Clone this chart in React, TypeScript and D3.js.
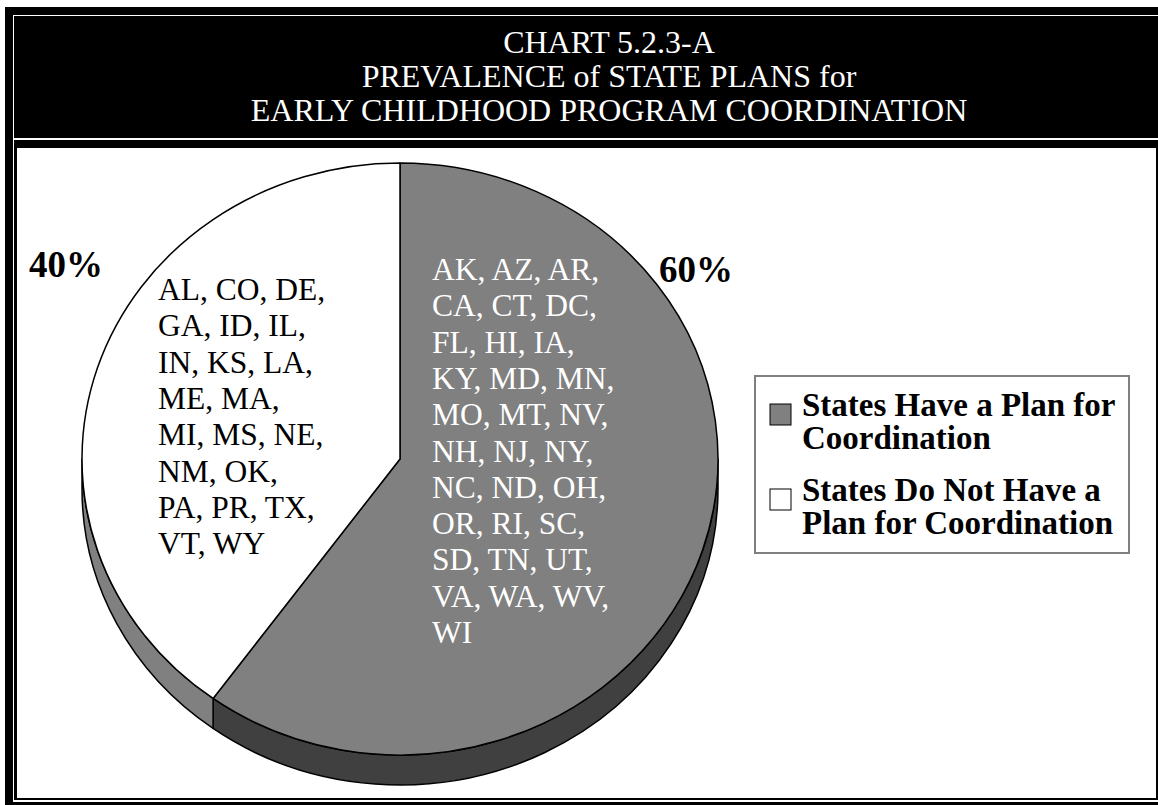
import React, { useEffect, useRef } from 'react'
import * as d3 from 'd3'

const titleLines = ['CHART 5.2.3-A', 'PREVALENCE of STATE PLANS for', 'EARLY CHILDHOOD PROGRAM COORDINATION']

const categories = ['States Have a Plan for Coordination', 'States Do Not Have a Plan for Coordination']
const shares = [60, 40]
const legendLines = [
  ['States Have a Plan for', 'Coordination'],
  ['States Do Not Have a', 'Plan for Coordination'],
]

const statesWithPlan = [
  'AK, AZ, AR,', 'CA, CT, DC,', 'FL, HI, IA,', 'KY, MD, MN,', 'MO, MT, NV,', 'NH, NJ, NY,',
  'NC, ND, OH,', 'OR, RI, SC,', 'SD, TN, UT,', 'VA, WA, WV,', 'WI',
]
const statesWithoutPlan = [
  'AL, CO, DE,', 'GA, ID, IL,', 'IN, KS, LA,', 'ME, MA,', 'MI, MS, NE,', 'NM, OK,', 'PA, PR, TX,', 'VT, WY',
]

const topColors = ['#808080', '#ffffff']
const sideColors = ['#404040', '#808080']
const textColors = ['#ffffff', '#000000']

const W = 1158
const H = 805
const serif = '"Liberation Serif", "Times New Roman", serif'

export default function App() {
  const svgRef = useRef<SVGSVGElement>(null)

  useEffect(() => {
    const svg = d3.select(svgRef.current)
    svg.selectAll('*').remove()

    // frames
    svg.append('rect').attr('x', 5).attr('y', 7).attr('width', W).attr('height', H).attr('fill', '#000')
    svg.append('rect').attr('x', 13).attr('y', 15).attr('width', W).attr('height', 787).attr('fill', '#fff')
    svg.append('rect').attr('x', 14).attr('y', 16).attr('width', W).attr('height', 122).attr('fill', '#000')
    svg.append('rect').attr('x', 14).attr('y', 140).attr('width', W).attr('height', 660).attr('fill', '#000')
    svg.append('rect').attr('x', 17).attr('y', 148).attr('width', 1139).attr('height', 650).attr('fill', '#fff')

    // title
    svg
      .append('g')
      .selectAll('text')
      .data(titleLines)
      .join('text')
      .attr('x', 609)
      .attr('y', (d, i) => 53 + i * 34)
      .attr('text-anchor', 'middle')
      .attr('font-family', serif)
      .attr('font-size', 32)
      .attr('fill', '#fff')
      .text((d) => d)

    // pie
    const cx = 400
    const cy = 459
    const rx = 318
    const ry = 296
    const depth = 30
    const pt = (a: number, dy = 0) => [cx + rx * Math.sin(a), cy - ry * Math.cos(a) + dy]

    const arcs = d3
      .pie<number>()
      .sort(null)
      .value((d) => d)(shares)

    const g = svg.append('g')

    // visible outer side walls
    arcs.forEach((a, i) => {
      const s = Math.max(a.startAngle, Math.PI / 2)
      const e = Math.min(a.endAngle, (3 * Math.PI) / 2)
      if (e <= s) return
      const large = e - s > Math.PI ? 1 : 0
      g.append('path')
        .attr(
          'd',
          `M${pt(s)}A${rx},${ry} 0 ${large} 1 ${pt(e)}L${pt(e, depth)}A${rx},${ry} 0 ${large} 0 ${pt(s, depth)}Z`
        )
        .attr('fill', sideColors[i])
        .attr('stroke', '#000')
        .attr('stroke-width', 1.5)
        .attr('stroke-linejoin', 'round')
    })

    // top faces
    arcs.forEach((a, i) => {
      const large = a.endAngle - a.startAngle > Math.PI ? 1 : 0
      g.append('path')
        .attr('d', `M${cx},${cy}L${pt(a.startAngle)}A${rx},${ry} 0 ${large} 1 ${pt(a.endAngle)}Z`)
        .attr('fill', topColors[i])
        .attr('stroke', '#000')
        .attr('stroke-width', 1.5)
        .attr('stroke-linejoin', 'round')
    })

    // state lists inside the slices
    const lists = [
      { lines: statesWithPlan, x: 432, y: 280 },
      { lines: statesWithoutPlan, x: 158, y: 300 },
    ]
    lists.forEach((l, i) => {
      g.append('g')
        .selectAll('text')
        .data(l.lines)
        .join('text')
        .attr('x', l.x)
        .attr('y', (d, k) => l.y + k * 36.3)
        .attr('font-family', serif)
        .attr('font-size', 31.5)
        .attr('fill', textColors[i])
        .text((d) => d)
    })

    // percentage labels
    const labelPos = [
      { x: cx + 296, y: 282 },
      { x: cx - 334, y: 277 },
    ]
    g.append('g')
      .selectAll('text')
      .data(arcs)
      .join('text')
      .attr('x', (d, i) => labelPos[i].x)
      .attr('y', (d, i) => labelPos[i].y)
      .attr('text-anchor', 'middle')
      .attr('font-family', serif)
      .attr('font-size', 37)
      .attr('font-weight', 'bold')
      .attr('fill', '#000')
      .text((d) => `${Math.round((d.data / d3.sum(shares)) * 100)}%`)

    // legend
    const legend = svg.append('g')
    legend
      .append('rect')
      .attr('x', 755)
      .attr('y', 376)
      .attr('width', 374)
      .attr('height', 177)
      .attr('fill', '#fff')
      .attr('stroke', '#808080')
      .attr('stroke-width', 2)

    const items = legend
      .selectAll('g.item')
      .data(categories)
      .join('g')
      .attr('class', 'item')
      .attr('transform', (d, i) => `translate(0, ${i * 85})`)

    items
      .append('rect')
      .attr('x', 770)
      .attr('y', 404)
      .attr('width', 21)
      .attr('height', 21)
      .attr('fill', (d, i) => topColors[i])
      .attr('stroke', '#000')
      .attr('stroke-width', 1)

    items
      .append('text')
      .attr('x', 802)
      .attr('y', 416)
      .attr('font-family', serif)
      .attr('font-size', 33)
      .attr('font-weight', 'bold')
      .attr('fill', '#000')
      .selectAll('tspan')
      .data((d, i) => legendLines[i])
      .join('tspan')
      .attr('x', 802)
      .attr('dy', (d, k) => (k === 0 ? 0 : 33))
      .text((d) => d)
  }, [])

  return (
    <svg
      ref={svgRef}
      width={W}
      height={H}
      viewBox={`0 0 ${W} ${H}`}
      style={{ position: 'absolute', left: 0, top: 0, background: '#fff' }}
    ></svg>
  )
}
